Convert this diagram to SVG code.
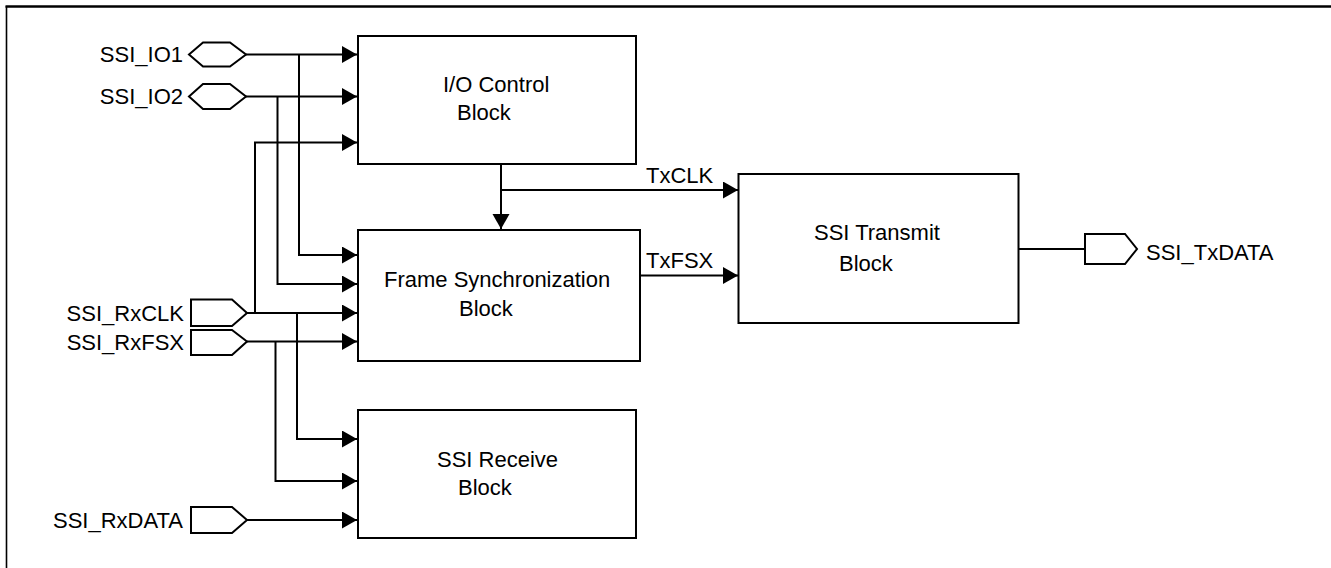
<svg xmlns="http://www.w3.org/2000/svg" width="1331" height="568" viewBox="0 0 1331 568">
<style>
.box{fill:#fff;stroke:#000;stroke-width:2}
.port{fill:#fff;stroke:#000;stroke-width:2}
.wire{fill:none;stroke:#000;stroke-width:2}
.arr{fill:none;stroke:#000;stroke-width:2;marker-end:url(#ah)}
text{font-family:"Liberation Sans",Arial,sans-serif;font-size:22px;fill:#000}
.r{text-anchor:end}
</style>
<defs>
<marker id="ah" markerUnits="userSpaceOnUse" markerWidth="16" markerHeight="18" refX="15" refY="8.5" orient="auto">
<path d="M0,0 L15,8.5 L0,17 Z" fill="#000"/>
</marker>
</defs>
<rect x="0" y="0" width="1331" height="568" fill="#fff"/>
<g id="frame">
<line x1="5.5" y1="6.5" x2="1331" y2="6.5" stroke="#000" stroke-width="2.5"/>
<line x1="6.5" y1="6" x2="6.5" y2="568" stroke="#000" stroke-width="1.6"/>
</g>
<g id="connectors">
<path class="arr" d="M246,54.5 H357"/>
<path class="arr" d="M299,54.5 V255 H357"/>
<path class="arr" d="M246,96.5 H357"/>
<path class="arr" d="M277.5,96.5 V284 H357"/>
<path class="arr" d="M247,313 H357"/>
<path class="arr" d="M255,313 V142.5 H357"/>
<path class="arr" d="M297,313 V439 H357"/>
<path class="arr" d="M247,341.5 H357"/>
<path class="arr" d="M275.5,341.5 V481 H357"/>
<path class="arr" d="M247,520 H357"/>
<path class="arr" d="M501,164 V229"/>
<path class="arr" d="M501,190 H738"/>
<path class="arr" d="M640,275.5 H738"/>
<path class="wire" d="M1018,249 H1085"/>
<text x="646" y="183">TxCLK</text>
<text x="646" y="268">TxFSX</text>
</g>
<g id="io_control">
<rect class="box" x="358" y="36" width="278" height="128"/>
<text x="443" y="92">I/O Control</text>
<text x="457" y="120">Block</text>
</g>
<g id="frame_sync">
<rect class="box" x="358" y="230" width="282" height="131"/>
<text x="384" y="287">Frame Synchronization</text>
<text x="459" y="316">Block</text>
</g>
<g id="ssi_receive">
<rect class="box" x="358" y="410" width="278" height="128"/>
<text x="437" y="467">SSI Receive</text>
<text x="458" y="495">Block</text>
</g>
<g id="ssi_transmit">
<rect class="box" x="738.5" y="174" width="280" height="149"/>
<text x="814" y="240">SSI Transmit</text>
<text x="839" y="271">Block</text>
</g>
<g id="port_io1">
<polygon class="port" points="189,54.5 203,42.5 230,42.5 246,54.5 230,66.5 203,66.5"/>
<text class="r" x="183" y="62">SSI_IO1</text>
</g>
<g id="port_io2">
<polygon class="port" points="189,96.5 203,84 230,84 246,96.5 230,109 203,109"/>
<text class="r" x="183" y="104">SSI_IO2</text>
</g>
<g id="port_rxclk">
<polygon class="port" points="191,299.5 232,299.5 247,313 232,326 191,326"/>
<text class="r" x="184" y="321">SSI_RxCLK</text>
</g>
<g id="port_rxfsx">
<polygon class="port" points="191,330 232,330 247,341.5 232,355 191,355"/>
<text class="r" x="184" y="350">SSI_RxFSX</text>
</g>
<g id="port_rxdata">
<polygon class="port" points="191,507 232,507 247,520 232,533 191,533"/>
<text class="r" x="183" y="528">SSI_RxDATA</text>
</g>
<g id="port_txdata">
<polygon class="port" points="1085,234 1125,234 1137,249 1125,264 1085,264"/>
<text x="1146" y="260">SSI_TxDATA</text>
</g>
</svg>
